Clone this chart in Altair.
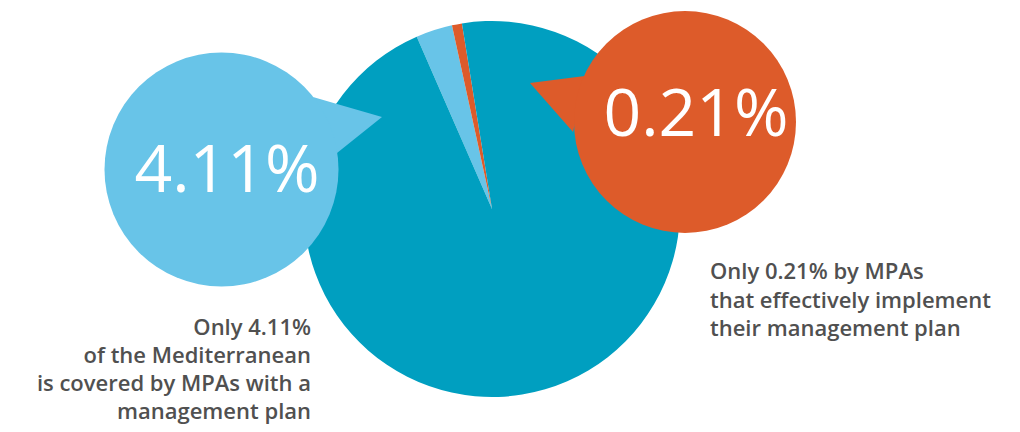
import altair as alt
import pandas as pd

# ---- data ----
slice_names = ["MPAs with a management plan", "MPAs effectively implementing their plan", "Rest of the Mediterranean"]
slice_shares = [3.14, 0.86, 96.0]          # angular shares as drawn
slice_colors = ["#68C4E8", "#DD5B2A", "#009FC0"]

callout_values = ["4.11%", "0.21%"]
callout_texts = [
    "Only 4.11%\nof the Mediterranean\nis covered by MPAs with a\nmanagement plan",
    "Only 0.21% by MPAs\nthat effectively implement\ntheir management plan",
]

# ---- layout (pixel space of the plot area) ----
W, H = 1004, 416
PIE_X, PIE_Y, PIE_R = 484, 201, 188
START = -0.412  # radians, clockwise from 12 o'clock

bubble_xy = [(213.5, 161.5), (677, 114)]
bubble_r = [117, 111]
pointer_tri = [
    [(374, 109), (305, 89), (329, 145)],
    [(522, 75), (577, 68), (565, 124)],
]
value_xy = [(219, 164), (688, 108)]
label_xy = [(303, 320), (702, 264)]
label_align = ["right", "left"]
label_line_h = [28, 28.5]

xs = alt.Scale(domain=[0, W], nice=False, zero=False)
ys = alt.Scale(domain=[H, 0], nice=False, zero=False)

# pie
pie_df = pd.DataFrame({"name": slice_names, "share": slice_shares, "order": [0, 1, 2]})
pie = alt.Chart(pie_df).mark_arc(outerRadius=PIE_R, stroke=None).encode(
    theta=alt.Theta("share:Q", stack=True,
                    scale=alt.Scale(range=[START, START + 6.283185307])),
    order=alt.Order("order:Q"),
    color=alt.Color("name:N", scale=alt.Scale(domain=slice_names, range=slice_colors), legend=None),
    x=alt.value(PIE_X),
    y=alt.value(PIE_Y),
)

# pointer triangles as areas
rows = []
for i, tri in enumerate(pointer_tri):
    p = sorted(tri, key=lambda t: t[0])
    (x0, y0), (x1, y1), (x2, y2) = p
    ym = y0 + (y2 - y0) * (x1 - x0) / (x2 - x0)
    for (xx, ya, yb) in [(x0, y0, y0), (x1, y1, ym), (x2, y2, y2)]:
        rows.append({"g": i, "x": xx, "y": ya, "y2": yb})
tri_df = pd.DataFrame(rows)
tris = alt.Chart(tri_df).mark_area(opacity=1, interpolate="linear").encode(
    x=alt.X("x:Q", scale=xs, axis=None),
    y=alt.Y("y:Q", scale=ys, axis=None),
    y2="y2:Q",
    detail="g:N",
    color=alt.Color("g:N", scale=alt.Scale(domain=[0, 1], range=[slice_colors[0], slice_colors[1]]), legend=None),
)

# symbol size is the area of its bounding square: (2r)^2
bub_df = pd.DataFrame({
    "g": [0, 1],
    "x": [b[0] for b in bubble_xy],
    "y": [b[1] for b in bubble_xy],
    "area": [(2 * r) ** 2 for r in bubble_r],
})
bubbles = alt.Chart(bub_df).mark_circle(opacity=1).encode(
    x=alt.X("x:Q", scale=xs, axis=None),
    y=alt.Y("y:Q", scale=ys, axis=None),
    size=alt.Size("area:Q", scale=None, legend=None),
    color=alt.Color("g:N", scale=alt.Scale(domain=[0, 1], range=[slice_colors[0], slice_colors[1]]), legend=None),
)

val_df = pd.DataFrame({
    "x": [v[0] for v in value_xy],
    "y": [v[1] for v in value_xy],
    "val": callout_values,
})
values = alt.Chart(val_df).mark_text(
    font="Open Sans", fontSize=66, fontWeight=500, color="white", baseline="middle", align="center"
).encode(
    x=alt.X("x:Q", scale=xs, axis=None),
    y=alt.Y("y:Q", scale=ys, axis=None),
    text="val:N",
)

label_layers = []
for i in range(2):
    ldf = pd.DataFrame({"x": [label_xy[i][0]], "y": [label_xy[i][1]], "t": [callout_texts[i]]})
    label_layers.append(
        alt.Chart(ldf).mark_text(
            font="Open Sans", fontSize=22, fontWeight=600, color="#505050",
            baseline="middle", align=label_align[i], lineBreak="\n", lineHeight=label_line_h[i],
        ).encode(
            x=alt.X("x:Q", scale=xs, axis=None),
            y=alt.Y("y:Q", scale=ys, axis=None),
            text="t:N",
        )
    )

chart = alt.layer(pie, tris, bubbles, values, *label_layers).properties(
    width=W, height=H, padding=0, autosize="none"
).configure_view(stroke=None)

chart.save("out.html", embed_options={"renderer": "svg", "actions": False})
